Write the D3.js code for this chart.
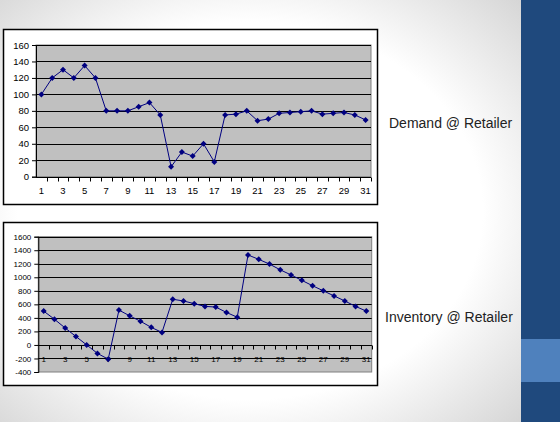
<!DOCTYPE html>
<html>
<head>
<meta charset="utf-8">
<script src="https://cdn.jsdelivr.net/npm/d3@7/dist/d3.min.js"></script>
<style>
  body { margin: 0; background: #fff; }
  svg { display: block; font-family: Arial, "Liberation Sans", sans-serif; }
</style>
</head>
<body>
<svg id="slide" width="560" height="422"></svg>
<script>
const days = [1, 2, 3, 4, 5, 6, 7, 8, 9, 10, 11, 12, 13, 14, 15, 16,
  17, 18, 19, 20, 21, 22, 23, 24, 25, 26, 27, 28, 29, 30, 31];
const dayLabels = [1, 3, 5, 7, 9, 11, 13, 15, 17, 19, 21, 23, 25, 27, 29, 31];

const demand = [100, 120, 130, 120, 135, 120, 80, 80, 80, 85, 90, 75, 12, 30, 25, 40,
  18, 75, 76, 80, 68, 70, 77, 78, 79, 80, 76, 77, 78, 75, 69];
const demandTicks = [0, 20, 40, 60, 80, 100, 120, 140, 160];

const inventory = [500, 380, 250, 125, 0, -125, -210, 515, 430, 350, 260, 185, 675, 650, 610, 570,
  560, 480, 410, 1330, 1265, 1195, 1110, 1035, 955, 875, 800, 725, 650, 570, 500];
const inventoryTicks = [-400, -200, 0, 200, 400, 600, 800, 1000, 1200, 1400, 1600];

const svg = d3.select('#slide');

// slide background: white centre fading to grey at the corners
const defs = svg.append('defs');
const bg = defs.append('radialGradient')
  .attr('id', 'bg')
  .attr('cx', '48%')
  .attr('cy', '50%')
  .attr('r', '72%');
bg.append('stop').attr('offset', '0.62').attr('stop-color', '#ffffff');
bg.append('stop').attr('offset', '1').attr('stop-color', '#d6d6d6');

svg.append('rect')
  .attr('width', 521)
  .attr('height', 422)
  .attr('fill', 'url(#bg)');

svg.append('rect')
  .attr('x', 521)
  .attr('width', 39)
  .attr('height', 422)
  .attr('fill', '#1f497d');

svg.append('rect')
  .attr('x', 521)
  .attr('y', 339)
  .attr('width', 39)
  .attr('height', 43)
  .attr('fill', '#4f81bd');

const drawChart = (cfg) => {
  const g = svg.append('g');

  g.append('rect')
    .attr('x', cfg.frame[0])
    .attr('y', cfg.frame[1])
    .attr('width', cfg.frame[2])
    .attr('height', cfg.frame[3])
    .attr('fill', '#fff')
    .attr('stroke', '#000')
    .attr('stroke-width', 1.5);

  const x = d3.scaleBand()
    .domain(cfg.categories)
    .range([cfg.left, cfg.right])
    .padding(0);

  const y = d3.scaleLinear()
    .domain(d3.extent(cfg.ticks))
    .range([cfg.bottom, cfg.top]);

  // plot area
  g.append('rect')
    .attr('x', cfg.left)
    .attr('y', cfg.top)
    .attr('width', cfg.right - cfg.left)
    .attr('height', cfg.bottom - cfg.top)
    .attr('fill', '#c0c0c0')
    .attr('stroke', '#808080')
    .attr('stroke-width', 1);

  // gridlines
  g.selectAll('.grid')
    .data(cfg.ticks.slice(1))
    .enter()
    .append('line')
    .attr('class', 'grid')
    .attr('x1', cfg.left)
    .attr('x2', cfg.right)
    .attr('y1', d => Math.round(y(d)) + 0.5)
    .attr('y2', d => Math.round(y(d)) + 0.5)
    .attr('stroke', '#000')
    .attr('stroke-width', 1);

  const yAxis = d3.axisLeft(y)
    .tickValues(cfg.ticks)
    .tickFormat(d => String(d))
    .tickSize(4)
    .tickPadding(3);

  const ya = g.append('g')
    .attr('transform', `translate(${cfg.left},0)`)
    .call(yAxis);
  ya.select('.domain').attr('stroke', '#000');
  ya.selectAll('.tick line').attr('stroke', '#000');
  ya.selectAll('.tick text')
    .attr('font-size', cfg.fontSize)
    .attr('fill', '#000');

  // category axis, ticks between categories
  const axisY = Math.round(y(0)) + 0.5;
  g.append('line')
    .attr('x1', cfg.left)
    .attr('x2', cfg.right)
    .attr('y1', axisY)
    .attr('y2', axisY)
    .attr('stroke', '#000');

  g.selectAll('.xtick')
    .data(cfg.categories.slice(1).map(d => x(d)).concat([cfg.right]))
    .enter()
    .append('line')
    .attr('class', 'xtick')
    .attr('x1', d => Math.round(d) + 0.5)
    .attr('x2', d => Math.round(d) + 0.5)
    .attr('y1', axisY)
    .attr('y2', axisY + 4)
    .attr('stroke', '#000');

  g.selectAll('.xlabel')
    .data(dayLabels)
    .enter()
    .append('text')
    .attr('class', 'xlabel')
    .attr('x', d => x(d) + x.bandwidth() / 2)
    .attr('y', axisY + cfg.labelOffset)
    .attr('text-anchor', 'middle')
    .attr('font-size', cfg.fontSize)
    .attr('fill', '#000')
    .text(d => d);

  const line = d3.line()
    .x((d, i) => x(cfg.categories[i]) + x.bandwidth() / 2)
    .y(d => y(d));

  g.append('path')
    .datum(cfg.values)
    .attr('d', line)
    .attr('fill', 'none')
    .attr('stroke', '#000080')
    .attr('stroke-width', 1);

  g.selectAll('.marker')
    .data(cfg.values)
    .enter()
    .append('path')
    .attr('class', 'marker')
    .attr('d', d3.symbol(d3.symbolSquare).size(18))
    .attr('transform', (d, i) =>
      `translate(${x(cfg.categories[i]) + x.bandwidth() / 2},${y(d)}) rotate(45)`)
    .attr('fill', '#000080');

  svg.append('text')
    .attr('x', cfg.title[0])
    .attr('y', cfg.title[1])
    .attr('font-size', 14)
    .attr('fill', '#222')
    .text(cfg.title[2]);
};

drawChart({
  frame: [3.5, 29.5, 374, 175],
  left: 36,
  right: 371,
  top: 45,
  bottom: 176.7,
  categories: days,
  values: demand,
  ticks: demandTicks,
  fontSize: 9.5,
  labelOffset: 16.5,
  title: [389, 128, 'Demand @ Retailer'],
});

drawChart({
  frame: [3.5, 222.5, 374, 163],
  left: 38.3,
  right: 371.7,
  top: 236.7,
  bottom: 372,
  categories: days,
  values: inventory,
  ticks: inventoryTicks,
  fontSize: 8,
  labelOffset: 16,
  title: [385, 322, 'Inventory @ Retailer'],
});
</script>
</body>
</html>
